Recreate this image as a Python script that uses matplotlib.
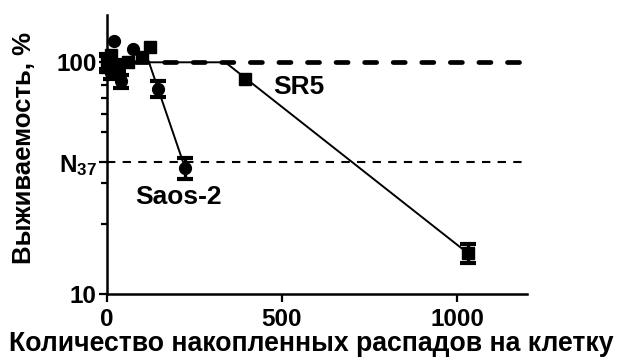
import numpy as np
import matplotlib
matplotlib.use("Agg")
import matplotlib.pyplot as plt
from matplotlib.ticker import FixedLocator, NullFormatter, FixedFormatter

plt.rcParams['font.family'] = ['Liberation Sans', 'DejaVu Sans']
plt.rcParams['font.weight'] = 'bold'
plt.rcParams['mathtext.fontset'] = 'custom'
plt.rcParams['mathtext.rm'] = 'Liberation Sans:bold'
plt.rcParams['mathtext.bf'] = 'Liberation Sans:bold'
plt.rcParams['mathtext.it'] = 'Liberation Sans:bold'

# Saos-2: accumulated decays per cell vs survival (%)
saos_x = [0, 10, 21, 25, 40, 74, 147, 223]
saos_y = [100, 90, 123, 97, 83, 114, 77, 35]
saos_err = [6, 5, 0, 4, 5.5, 0, 6, 3.6]

# SR5
sr5_x = [0, 12, 30, 59, 99, 123, 395, 1031]
sr5_y = [100, 108, 97, 100, 105, 116, 85, 15]
sr5_err = [9, 0, 5, 0, 0, 0, 0, 1.4]

# shoulder-type survival curves
saos_fit_x = [0, 120, 223]
saos_fit_y = [100, 100, 35]
sr5_fit_x = [0, 338, 1031]
sr5_fit_y = [100, 100, 15]

ref_level = 100
n37_level = 37

x_ticks = [0, 500, 1000]
y_ticks = [10, 37, 100]
y_tick_labels = ['10', r'$\mathbf{N_{37}}$', '100']
y_minor = [20, 30, 50, 60, 70, 80, 90]

fig = plt.figure(figsize=(6.23, 3.58), dpi=100)
ax = fig.add_axes([107 / 623, 64 / 358, 420 / 623, 279 / 358])
ax.set_yscale('log')
ax.set_xlim(0, 1200)
ax.set_ylim(10, 160)

# reference lines
ax.plot([0, 1200], [ref_level, ref_level], color='black', lw=3.4,
        linestyle=(0, (2.55, 3.5)), dash_capstyle='round', zorder=2)
ax.plot([0, 1200], [n37_level, n37_level], color='black', lw=1.5,
        linestyle=(0, (4, 3.5)), zorder=2)

# curves
ax.plot(saos_fit_x, saos_fit_y, color='black', lw=1.4, zorder=3)
ax.plot(sr5_fit_x, sr5_fit_y, color='black', lw=1.4, zorder=3)


def draw_points(xs, ys, errs, marker, ms):
    ex = [x for x, e in zip(xs, errs) if e > 0]
    ey = [y for y, e in zip(ys, errs) if e > 0]
    ee = [e for e in errs if e > 0]
    ax.errorbar(ex, ey, yerr=ee, fmt='none', ecolor='black', elinewidth=2.4,
                capsize=5.5, capthick=3, zorder=4, clip_on=False)
    ax.plot(xs, ys, linestyle='none', marker=marker, ms=ms, color='black',
            zorder=5, clip_on=False)


draw_points(saos_x, saos_y, saos_err, 'o', 8.5)
draw_points(sr5_x, sr5_y, sr5_err, 's', 8.0)

ax.text(547, 78, 'SR5', fontsize=19, fontweight='bold', ha='center', va='center')
ax.text(205, 26.2, 'Saos-2', fontsize=19, fontweight='bold', ha='center', va='center')

for side in ('top', 'right'):
    ax.spines[side].set_visible(False)
for side in ('left', 'bottom'):
    ax.spines[side].set_linewidth(1.8)

ax.xaxis.set_major_locator(FixedLocator(x_ticks))
ax.set_xticklabels([str(v) for v in x_ticks])
ax.yaxis.set_major_locator(FixedLocator(y_ticks))
ax.yaxis.set_major_formatter(FixedFormatter(y_tick_labels))
ax.yaxis.set_minor_locator(FixedLocator(y_minor))
ax.yaxis.set_minor_formatter(NullFormatter())
ax.tick_params(axis='both', which='major', direction='out', length=6, width=1.6,
               labelsize=17.5, pad=1.5)
ax.tick_params(axis='x', which='major', pad=4)
ax.tick_params(axis='y', which='minor', direction='out', length=4, width=1.6)
for lab in ax.get_xticklabels() + ax.get_yticklabels():
    lab.set_fontweight('bold')

ax.set_xlabel('Количество накопленных распадов на клетку', fontsize=19.2,
              fontweight='bold')
ax.xaxis.set_label_coords(311 / 623, (358 - 344) / 358, transform=fig.transFigure)
ax.xaxis.label.set_va('center')
ax.set_ylabel('Выживаемость, %', fontsize=18.5, fontweight='bold')
ax.yaxis.set_label_coords(24 / 623, (358 - 148) / 358, transform=fig.transFigure)
ax.yaxis.label.set_va('center')

fig.savefig('out.png', dpi=100)
